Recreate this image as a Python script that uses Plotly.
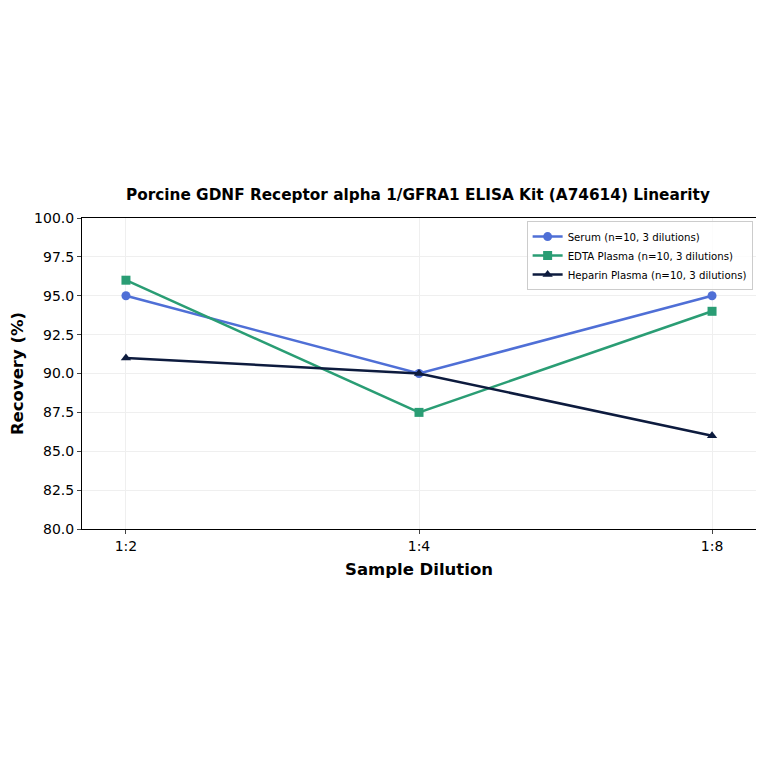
import plotly.graph_objects as go

dilutions = ["1:2", "1:4", "1:8"]
serum = [95.0, 90.0, 95.0]
edta = [96.0, 87.5, 94.0]
heparin = [91.0, 90.0, 86.0]

names = ["Serum (n=10, 3 dilutions)", "EDTA Plasma (n=10, 3 dilutions)", "Heparin Plasma (n=10, 3 dilutions)"]
colors = ["#4f6fd6", "#2a9d74", "#0d1b3e"]
symbols = ["circle", "square", "triangle-up"]

fig = go.Figure()
for vals, nm, col, sym in zip([serum, edta, heparin], names, colors, symbols):
    fig.add_trace(go.Scatter(
        x=list(range(len(dilutions))), y=vals,
        name=nm, mode="lines+markers",
        line=dict(color=col, width=2.5),
        marker=dict(symbol=sym, size=9, color=col)))

fig.update_layout(
    width=748, height=748,
    margin=dict(l=74, r=0, t=210, b=227),
    paper_bgcolor="white", plot_bgcolor="white",
    font=dict(family="DejaVu Sans", color="black"),
    title=dict(text="<b>Porcine GDNF Receptor alpha 1/GFRA1 ELISA Kit (A74614) Linearity</b>",
               x=0.548, xanchor="center", y=0.75, yanchor="middle",
               font=dict(size=15.3)),
    legend=dict(x=0.995, y=0.99, xanchor="right", yanchor="top",
                bgcolor="rgba(255,255,255,0.8)", bordercolor="#cccccc", borderwidth=1,
                font=dict(size=10.2), tracegroupgap=0),
    showlegend=True)

fig.update_xaxes(
    tickmode="array", tickvals=list(range(len(dilutions))), ticktext=dilutions,
    range=[-0.15, 2.15],
    title=dict(text="<b>Sample Dilution</b>", font=dict(size=16.5), standoff=10),
    tickfont=dict(size=14), ticks="outside", ticklen=4,
    showgrid=True, gridcolor="#efefef", gridwidth=1,
    showline=True, linecolor="black", linewidth=1, mirror=True, zeroline=False)

fig.update_yaxes(
    range=[80, 100], dtick=2.5, tickformat=".1f",
    title=dict(text="<b>Recovery (%)</b>", font=dict(size=16.5), standoff=8),
    tickfont=dict(size=14), ticks="outside", ticklen=4,
    showgrid=True, gridcolor="#efefef", gridwidth=1,
    showline=True, linecolor="black", linewidth=1, mirror=True, zeroline=False)

fig.write_html("out.html")
